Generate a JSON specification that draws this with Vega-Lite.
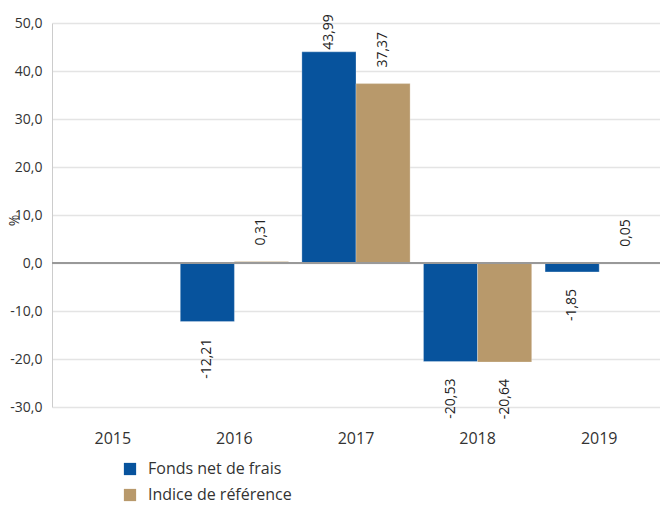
{
  "$schema": "https://vega.github.io/schema/vega-lite/v6.json",
  "width": 608,
  "height": 384,
  "autosize": {"type": "none"},
  "padding": {"left": 52, "top": 23, "right": 0, "bottom": 98},
  "background": "white",
  "config": {
    "locale": {"number": {"decimal": ",", "thousands": " ", "grouping": [3], "currency": ["", " €"], "minus": "-"}},
    "font": "Open Sans",
    "view": {"stroke": null}
  },
  "data": {
    "values": [
      {"year": "2016", "series": "Fonds net de frais", "value": -12.21},
      {"year": "2016", "series": "Indice de référence", "value": 0.31},
      {"year": "2017", "series": "Fonds net de frais", "value": 43.99},
      {"year": "2017", "series": "Indice de référence", "value": 37.37},
      {"year": "2018", "series": "Fonds net de frais", "value": -20.53},
      {"year": "2018", "series": "Indice de référence", "value": -20.64},
      {"year": "2019", "series": "Fonds net de frais", "value": -1.85},
      {"year": "2019", "series": "Indice de référence", "value": 0.05}
    ]
  },
  "encoding": {
    "x": {
      "field": "year", "type": "nominal",
      "scale": {"domain": ["2015", "2016", "2017", "2018", "2019"], "paddingInner": 0.11, "paddingOuter": 0.055},
      "axis": {"title": null, "labelAngle": 0, "domain": false, "ticks": false, "labelPadding": 23, "labelFontSize": 16, "labelColor": "#333333", "grid": false}
    },
    "xOffset": {"field": "series", "type": "nominal", "scale": {"domain": ["Fonds net de frais", "Indice de référence"], "paddingInner": 0, "paddingOuter": 0}}
  },
  "layer": [
    {
      "mark": {"type": "bar", "stroke": "white", "strokeOpacity": 0.35, "strokeWidth": 0.8},
      "encoding": {
        "y": {
          "field": "value", "type": "quantitative",
          "scale": {"domain": [-30, 50], "nice": false},
          "axis": {
            "title": "%", "titleAngle": -90, "titleFontSize": 14, "titleFontWeight": "normal", "titleColor": "#333333",
            "titleX": -38, "titleY": 197, "titleAlign": "center", "titleBaseline": "middle",
            "values": [-30, -20, -10, 0, 10, 20, 30, 40, 50], "format": ".1f",
            "ticks": false, "labelPadding": 10, "labelFontSize": 14, "labelColor": "#333333",
            "domainColor": "#cccccc", "gridColor": "#e4e4e4", "gridWidth": 1.5
          }
        },
        "color": {
          "field": "series", "type": "nominal",
          "scale": {"domain": ["Fonds net de frais", "Indice de référence"], "range": ["#07539d", "#b8996b"]},
          "legend": {
            "title": null, "orient": "none", "legendX": 70, "legendY": 438, "direction": "vertical",
            "symbolType": "square", "symbolSize": 150, "symbolStrokeWidth": 0, "labelFontSize": 16, "labelColor": "#333333",
            "rowPadding": 10, "labelOffset": 10
          }
        }
      }
    },
    {
      "mark": {"type": "rule", "color": "#999999", "strokeWidth": 2},
      "data": {"values": [{"zero": 0}]},
      "encoding": {"y": {"field": "zero", "type": "quantitative"}, "x": null, "xOffset": null}
    },
    {
      "transform": [{"filter": "datum.value >= 0 && datum.value < 40"}],
      "mark": {"type": "text", "angle": 270, "align": "left", "baseline": "middle", "dx": 16, "fontSize": 14, "color": "#222222"},
      "encoding": {
        "y": {"field": "value", "type": "quantitative"},
        "text": {"field": "value", "type": "quantitative", "format": ".2f"}
      }
    },
    {
      "transform": [{"filter": "datum.value >= 40"}],
      "mark": {"type": "text", "angle": 270, "align": "left", "baseline": "middle", "dx": 2, "fontSize": 14, "color": "#222222"},
      "encoding": {
        "y": {"field": "value", "type": "quantitative"},
        "text": {"field": "value", "type": "quantitative", "format": ".2f"}
      }
    },
    {
      "transform": [{"filter": "datum.value < 0"}],
      "mark": {"type": "text", "angle": 270, "align": "right", "baseline": "middle", "dx": -17, "fontSize": 14, "color": "#222222"},
      "encoding": {
        "y": {"field": "value", "type": "quantitative"},
        "text": {"field": "value", "type": "quantitative", "format": ".2f"}
      }
    }
  ]
}
